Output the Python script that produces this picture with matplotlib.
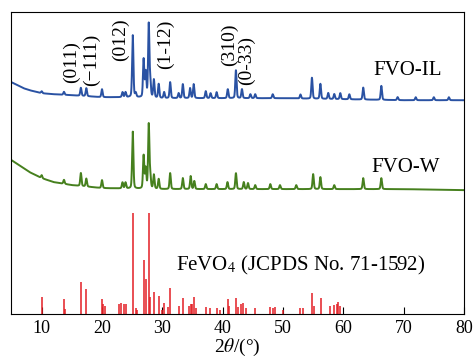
import numpy as np
import matplotlib.pyplot as plt

plt.rcParams['font.family'] = ['Liberation Serif', 'DejaVu Serif']
plt.rcParams['mathtext.fontset'] = 'stix'

# vertical units: 1 unit = 1 px of the original figure, 0 = axis bottom

# FeVO4 reference sticks (JCPDS 71-1592): 2theta, height
ref_pos = [10.0, 13.7, 13.85, 16.5, 17.35, 19.95, 20.2, 20.5, 22.8, 23.2, 23.7, 23.9,
           25.1, 25.6, 25.8, 26.9, 27.25, 27.75, 28.0, 28.6, 29.4, 29.9, 30.35, 30.9,
           31.3, 32.75, 33.4, 34.4, 34.7, 35.0, 35.2, 35.5, 37.2, 37.9, 39.0, 39.6,
           40.85, 41.1, 42.2, 42.5, 43.0, 43.4, 43.8, 45.4, 47.9, 48.3, 48.7, 50.0,
           52.8, 53.4, 54.8, 55.2, 56.3, 57.8, 58.4, 58.9, 59.2, 59.5]
ref_int = [17, 15, 5, 32, 25, 15, 10, 8, 10, 11, 10, 10,
           101, 6, 4, 54, 35, 101, 17, 22, 18, 4, 11, 7,
           26, 8, 16, 8, 10, 10, 17, 6, 7, 6, 6, 4,
           15, 8, 16, 7, 10, 11, 6, 6, 7, 6, 7, 4,
           6, 6, 21, 8, 16, 8, 9, 10, 12, 8]

# FVO-IL (blue) background and peaks
il_bg_x = [5, 6, 7, 8, 10, 12, 15, 20, 25, 30, 40, 50, 60, 70, 80]
il_bg_y = [232, 229, 226, 224, 221, 220, 219, 217, 217, 216, 216, 216, 215, 214, 214]
il_pos = [10.0, 13.7, 16.5, 17.4, 20.0, 23.4, 23.9, 25.1, 25.6, 26.9, 27.25, 27.75,
          28.0, 28.6, 29.4, 30.3, 31.3, 32.7, 33.4, 34.6, 35.2, 37.2, 38.0, 39.0,
          40.85, 42.2, 43.2, 44.6, 45.4, 48.3, 52.9, 54.8, 56.2, 57.5, 58.5, 59.5,
          61.0, 63.3, 66.3, 69.0, 72.0, 75.0, 77.5]
il_int = [2, 3, 8, 8, 8, 5, 5, 62, 4, 38, 25, 73,
          15, 18, 14, 6, 16, 5, 14, 10, 14, 7, 5, 6,
          9, 28, 9, 4, 4, 4, 4, 21, 15, 6, 5, 6,
          5, 12, 14, 3, 3, 3, 3]

# FVO-W (green) background and peaks
w_bg_x = [5, 6, 7, 8, 10, 12, 15, 20, 30, 50, 60, 70, 80]
w_bg_y = [154, 150, 146, 142, 136, 132, 129, 126, 125, 125, 125, 125, 124]
w_pos = [10.0, 13.7, 16.5, 17.4, 20.0, 23.4, 23.9, 25.1, 26.9, 27.25, 27.75, 28.0,
         28.6, 29.4, 31.3, 33.4, 34.7, 35.3, 37.2, 39.0, 40.8, 42.2, 43.5, 44.2,
         45.4, 47.9, 49.5, 52.2, 55.0, 56.2, 58.5, 63.3, 66.3]
w_int = [3, 4, 13, 8, 8, 6, 6, 57, 33, 20, 64, 12,
         14, 10, 16, 11, 13, 8, 5, 5, 7, 16, 7, 6,
         4, 5, 4, 4, 15, 12, 4, 11, 11]

hkl_labels = ['(011)', '(\u2212111)', '(012)', '(1-12)', '(310)', '(0-33)']
hkl_x = [15.0, 18.3, 23.0, 30.45, 41.2, 44.0]
hkl_y = [231, 228, 253, 245, 248, 229]


def pattern(tt, bg_x, bg_y, pos, inten, fwhm=0.25):
    y = np.interp(tt, bg_x, bg_y)
    for p, h in zip(pos, inten):
        g = np.exp(-4 * np.log(2) * ((tt - p) / fwhm) ** 2)
        lo = 1 / (1 + 4 * ((tt - p) / fwhm) ** 2)
        y = y + h * (0.7 * g + 0.3 * lo)
    return y


tt = np.linspace(5, 80, 4000)
il = pattern(tt, il_bg_x, il_bg_y, il_pos, il_int)
w = pattern(tt, w_bg_x, w_bg_y, w_pos, w_int)

fig = plt.figure(figsize=(4.77, 3.61), dpi=100)
ax = fig.add_axes([0.0241, 0.1302, 0.9486, 0.8357])

ax.plot(tt, il, color='#2a52a3', lw=1.4)
ax.plot(tt, w, color='#46801e', lw=1.4)
ax.vlines(ref_pos, 0, ref_int, color='#e31e24', lw=1.1)

ax.text(70.6, 244, 'FVO-IL', fontsize=15, ha='center', va='center')
ax.text(70.3, 147, 'FVO-W', fontsize=15, ha='center', va='center')
ax.text(32.2, 49, r'FeVO$_4$ (JCPDS No. 71-1592)', fontsize=15,
        ha='left', va='center')

for lab, x, y in zip(hkl_labels, hkl_x, hkl_y):
    ax.text(x, y, lab, rotation=90, fontsize=14, ha='center', va='bottom')

ax.set_xlim(5, 80)
ax.set_ylim(0, 302)
ax.set_xticks(range(10, 90, 10))
ax.set_yticks([])
ax.tick_params(axis='x', direction='in', length=5, labelsize=13, pad=4)
ax.set_xlabel(r'2$\theta$/(°)', fontsize=14, labelpad=0)

fig.savefig('out.png', dpi=100)
